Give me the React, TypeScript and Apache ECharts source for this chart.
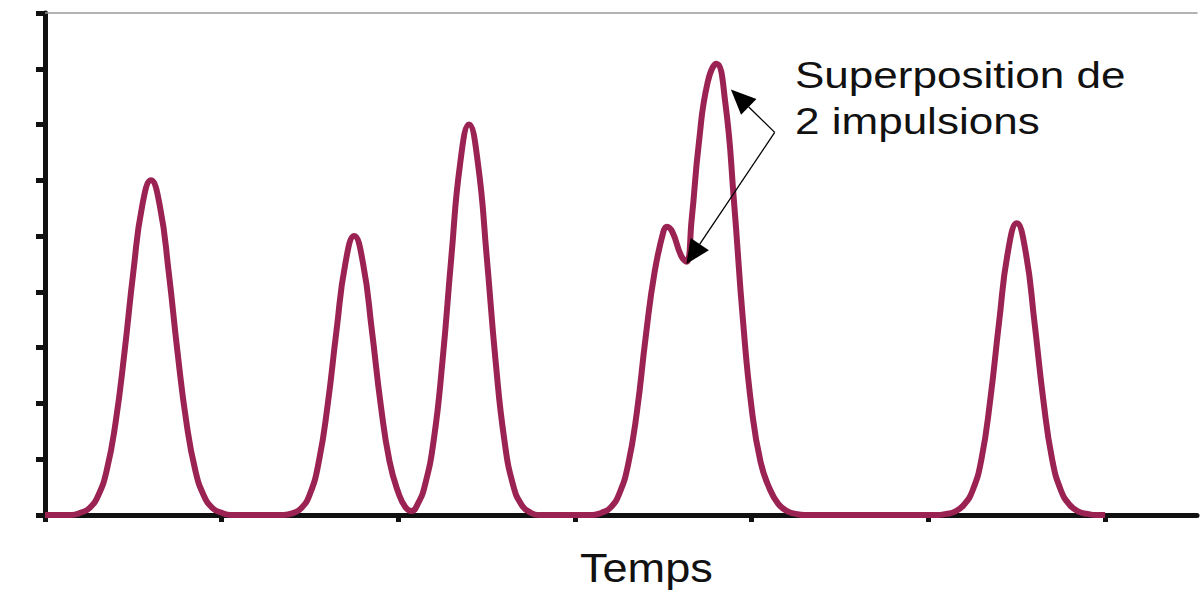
import React, { useEffect, useRef } from "react";
import * as echarts from "echarts";

// Time axis tick positions (no labels shown)
const timeTicks = [0, 10, 20, 30, 40, 50, 60];

// Signal: [time, amplitude]
const pulseA: [number, number][] = [
  [0, 0], [1.5, 0], [2.0, 0.04], [2.5, 0.12], [3.0, 0.34], [3.5, 0.81], [4.0, 1.67],
  [4.5, 2.92], [5.0, 4.36], [5.5, 5.54], [6.0, 6.0], [6.5, 5.54], [7.0, 4.36],
  [7.5, 2.92], [8.0, 1.67], [8.5, 0.81], [9.0, 0.34], [9.5, 0.12], [10.0, 0.04], [10.5, 0],
];
const pulsesBC: [number, number][] = [
  [13.5, 0], [14.0, 0.03], [14.5, 0.12], [15.0, 0.38], [15.5, 0.96], [16.0, 1.98],
  [16.5, 3.31], [17.0, 4.51], [17.5, 5.0], [18.0, 4.51], [18.5, 3.31], [19.0, 1.98],
  [19.5, 0.96], [20.0, 0.4], [20.4, 0.14], [20.75, 0.07], [21.1, 0.2], [21.5, 0.53],
  [22.0, 1.34], [22.5, 2.77], [23.0, 4.63], [23.5, 6.31], [24.0, 7.0], [24.5, 6.31],
  [25.0, 4.63], [25.5, 2.77], [26.0, 1.34], [26.5, 0.53], [27.0, 0.17], [27.5, 0.04], [28.0, 0],
];
const pulseD: [number, number][] = [
  [31.0, 0], [31.5, 0.04], [32.0, 0.13], [32.5, 0.38], [33.0, 0.9], [33.5, 1.85],
  [34.0, 3.2], [34.5, 4.35], [35.0, 5.08], [35.2, 5.17], [35.5, 5.08], [36.0, 4.65],
  [36.3, 4.54], [36.6, 5.3], [37.0, 6.65], [37.5, 7.75], [38.0, 8.09], [38.5, 7.4],
  [39.0, 5.6], [39.5, 3.5], [40.0, 1.9], [40.5, 0.95], [41.0, 0.48], [41.5, 0.2],
  [42.0, 0.07], [42.5, 0.02], [43.0, 0],
];
const pulseE: [number, number][] = [
  [50.5, 0], [51.0, 0.02], [51.5, 0.06], [52.0, 0.18], [52.5, 0.44], [53.0, 1.0],
  [53.5, 2.07], [54.0, 3.46], [54.5, 4.72], [55.0, 5.23], [55.5, 4.72], [56.0, 3.46],
  [56.5, 2.07], [57.0, 1.0], [57.5, 0.44], [58.0, 0.18], [58.5, 0.06], [59.0, 0.02],
  [59.5, 0], [60.0, 0],
];

// Annotation anchors in data coordinates
const arrowVertex: [number, number] = [41.3, 6.86];
const arrowTipPeak: [number, number] = [38.82, 7.63];
const arrowTipDip: [number, number] = [36.3, 4.5];
const annotationLines = ["Superposition de", "2 impulsions"];
const xAxisTitle = "Temps";

export default function App() {
  const ref = useRef<HTMLDivElement>(null);

  useEffect(() => {
    const chart = echarts.init(ref.current!, null, { renderer: "svg" });
    const signal = [...pulseA, ...pulsesBC, ...pulseD, ...pulseE];
    const axisBlack = "#111111";

    chart.setOption({
      animation: false,
      backgroundColor: "#ffffff",
      grid: { left: 45, right: 3, top: 13, bottom: 92, containLabel: false },
      xAxis: [
        {
          type: "value",
          min: 0,
          max: 65.2,
          interval: 10,
          position: "bottom",
          axisLine: { show: true, onZero: false, lineStyle: { color: axisBlack, width: 5 } },
          axisTick: { show: true, customValues: timeTicks, length: 7, lineStyle: { color: axisBlack, width: 5 } },
          axisLabel: { show: false },
          splitLine: { show: false },
        },
        {
          type: "value",
          min: 0,
          max: 65.2,
          position: "top",
          axisLine: { show: true, onZero: false, lineStyle: { color: "#9a9a9a", width: 1.5 } },
          axisTick: { show: false },
          axisLabel: { show: false },
          splitLine: { show: false },
        },
      ],
      yAxis: {
        type: "value",
        min: 0,
        max: 9,
        interval: 1,
        axisLine: { show: true, onZero: false, lineStyle: { color: axisBlack, width: 5 } },
        axisTick: { show: true, length: 9, lineStyle: { color: axisBlack, width: 5 } },
        axisLabel: { show: false },
        splitLine: { show: false },
      },
      series: [
        {
          type: "line",
          data: signal,
          xAxisIndex: 0,
          yAxisIndex: 0,
          showSymbol: false,
          smooth: 0.5,
          lineStyle: { color: "#9b2353", width: 6 },
          z: 5,
        },
      ],
    });

    const toPx = (p: [number, number]) =>
      chart.convertToPixel({ seriesIndex: 0 }, p) as unknown as number[];
    const v = toPx(arrowVertex);
    const head = (tipData: [number, number], len: number, half: number) => {
      const tip = toPx(tipData);
      const dx = tip[0] - v[0];
      const dy = tip[1] - v[1];
      const L = Math.hypot(dx, dy);
      const ux = dx / L;
      const uy = dy / L;
      const bx = tip[0] - ux * len;
      const by = tip[1] - uy * len;
      return {
        base: [bx, by],
        pts: [
          [tip[0], tip[1]],
          [bx - uy * half, by + ux * half],
          [bx + uy * half, by - ux * half],
        ],
      };
    };
    const h1 = head(arrowTipPeak, 25, 11);
    const h2 = head(arrowTipDip, 24, 11);
    const textFont = "Liberation Sans, Arial, sans-serif";
    const textStyle = (text: string, size: number) => ({
      text,
      fontSize: size,
      fontFamily: textFont,
      fill: "#111",
      align: "left",
      textAlign: "left",
      verticalAlign: "middle",
      textVerticalAlign: "middle",
    });

    chart.setOption({
      graphic: [
        {
          type: "line",
          shape: { x1: v[0], y1: v[1], x2: h1.base[0], y2: h1.base[1] },
          style: { stroke: "#000", lineWidth: 1.3 },
          z: 10,
        },
        {
          type: "line",
          shape: { x1: v[0], y1: v[1], x2: h2.base[0], y2: h2.base[1] },
          style: { stroke: "#000", lineWidth: 1.3 },
          z: 10,
        },
        { type: "polygon", shape: { points: h1.pts }, style: { fill: "#000" }, z: 10 },
        { type: "polygon", shape: { points: h2.pts }, style: { fill: "#000" }, z: 10 },
        { type: "text", x: 795, y: 75, scaleX: 1.19, style: textStyle(annotationLines[0], 37), z: 10 },
        { type: "text", x: 795, y: 121, scaleX: 1.19, style: textStyle(annotationLines[1], 37), z: 10 },
        { type: "text", x: 580, y: 568, scaleX: 1.1, style: textStyle(xAxisTitle, 41), z: 10 },
      ],
    });

    return () => {
      chart.dispose();
    };
  }, []);

  return (
    <div
      ref={ref}
      style={{ position: "fixed", left: 0, top: 0, width: 1200, height: 607, background: "#fff" }}
    />
  );
}
